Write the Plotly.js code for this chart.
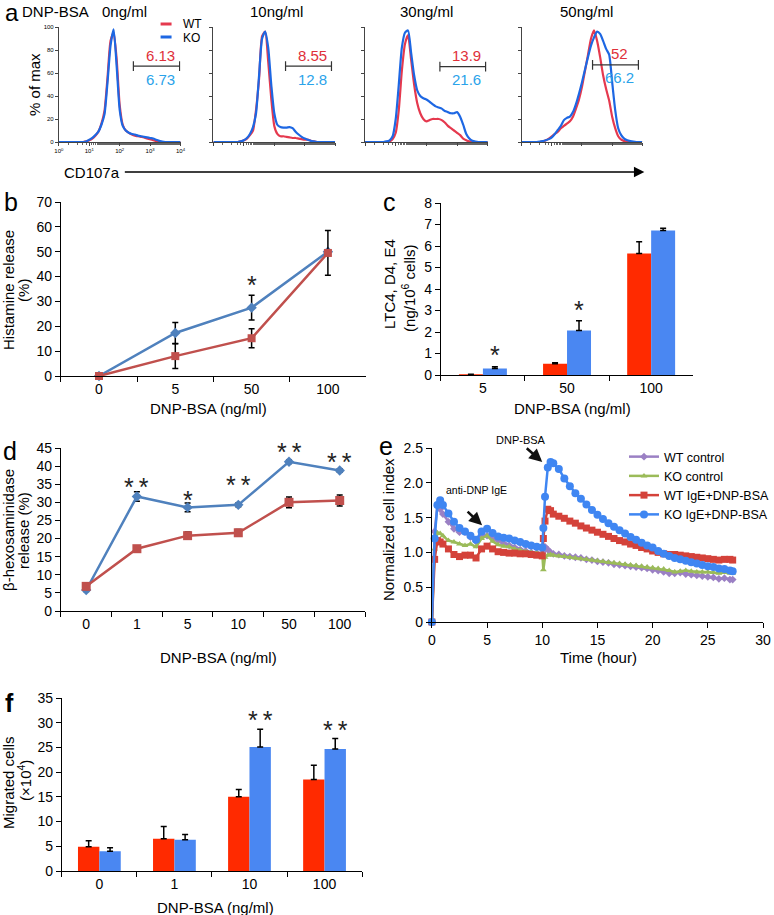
<!DOCTYPE html>
<html><head><meta charset="utf-8">
<script src="https://cdn.plot.ly/plotly-3.0.1.min.js"></script>
<style>body{margin:0;background:#fff}#chart{width:774px;height:915px}</style>
</head><body><div id="chart"></div>
<script>
// ================= DATA =================
// Panel a: CD107a flow histograms (% of max) on log10 bins
const histBinsLog = [0,0.1,0.2,0.3,0.4,0.5,0.6,0.7,0.8,0.9,1.0,1.1,1.2,1.3,1.4,1.5,1.6,1.7,1.8,1.9,2.0,2.1,2.2,2.3,2.4,2.5,2.6,2.7,2.8,2.9,3.0,3.1,3.2,3.3,3.4,3.5,3.6,3.7,3.8,3.9,4.0];
const histTitles = ['0ng/ml','10ng/ml','30ng/ml','50ng/ml'];
const histWT_0  = [0,0,0,0,0,0,0,0,0, 0.5,1.5,3,5.5,9,16,27,56,88,95,72,32,15,10,8,6.5,5.5,5,4.5,4,3,2.5,1.5,0.8,0.3,0, 0,0,0,0,0,0];
const histKO_0  = [0,0,0,0,0,0,0,0,0, 0.5,2,3.5,6,9,15,24,52,84,98,66,28,14,10,8,7,6.5,5.5,5,4.5,4,3.5,3,2,1,0.3, 0,0,0,0,0,0];
const histWT_10 = [0,0,0,0,0,0,0,0,0, 0.5,1.5,3,6,10,28,55,92,96,70,38,14,7,5,5,4.5,4,3.5,3.5,3,2.5,2,2,1,0.5,0, 0,0,0,0,0,0];
const histKO_10 = [0,0,0,0,0,0,0,0,0, 0.5,1.5,3.5,7,13,25,58,90,96,82,50,25,15,13,12.5,12.5,13,12,9,6.5,4.5,3,2,1,0.5,0, 0,0,0,0,0,0];
const histWT_30 = [0,0,0,0,0,0,0, 0,0.5,2.5,8,28,62,85,93,72,50,34,25,20,18,19,20,20,20,19,17,14,12,10,8,6,3,1.5,0.5,0,0, 0,0,0,0];
const histKO_30 = [0,0,0,0,0,0,0, 0.5,1.5,5,20,50,82,95,97,78,58,45,40,38,37,35,33,31,30,29,27,26,25,25,26,22,15,7,3,1,0.3, 0,0,0,0];
const histWT_50 = [0,0,0,0,0,0, 0,0.5,1.5,3,5,7,9,12,14,16,18,22,29,37,48,62,76,90,97,88,74,58,46,36,22,12,5,2,0.8,0.3,0,0, 0,0,0];
const histKO_50 = [0,0,0,0,0,0, 0.3,0.8,1.5,2.5,4,7,10.5,14,19,21,22,26,33,42,52,63,74,84,91,96,94,88,81,76,52,28,12,6,3,1.5,0.8,0.3, 0,0,0];
const gateLo = [2.45,2.37,2.44,2.35];
const gateHi = [3.97,3.88,3.93,3.87];
const gateLevel = [66,66,65.5,67];
const gateWT = ['6.13','8.55','13.9','52'];
const gateKO = ['6.73','12.8','21.6','66.2'];
const histTickVals = [1,10,100,1000,10000];
const histTickText = ['10<sup>0</sup>','10<sup>1</sup>','10<sup>2</sup>','10<sup>3</sup>','10<sup>4</sup>'];

// Panel b: histamine release (%)
const bCats = ['0','5','50','100'];
const bWT = [0,8,15.2,49.5];
const bWTerr = [0,5,3.8,9];
const bKO = [0,17.3,27.5,50];
const bKOerr = [0,4.2,5,0];
const bStars = ['','','*',''];
const bStarY = [null,null,37.4,null];

// Panel c: LTC4, D4, E4 (ng/10^6 cells)
const cCats = ['5','50','100'];
const cWT = [0.03,0.52,5.65];
const cWTerr = [0,0.05,0.55];
const cKO = [0.3,2.07,6.72];
const cKOerr = [0.08,0.45,0.1];
const cStars = ['*','*',''];
const cStarY = [1.02,3.12,null];

// Panel d: beta-hexosaminidase release (%)
const dCats = ['0','1','5','10','50','100'];
const dWT = [6.8,17.2,20.8,21.6,30.0,30.5];
const dWTerr = [0.8,0.5,1.0,0.9,1.5,1.5];
const dKO = [5.8,31.6,28.6,29.3,41.2,38.8];
const dKOerr = [0.4,1.3,1.2,0.5,0.5,0.5];
const dStars = ['','**','*','**','**','**'];
const dStarY = [null,34.9,31.2,35.3,44.4,41.7];

// Panel e: normalized cell index vs time (hour)
const eTime = [0,0.25,0.5,0.75,1,1.5,2,2.5,3,3.5,4,4.5,5,5.5,6,6.5,7,7.5,8,8.5,9,9.5,10,10.1,10.25,10.5,10.75,11,11.5,12,12.5,13,13.5,14,14.5,15,15.5,16,16.5,17,17.5,18,18.5,19,19.5,20,20.5,21,21.5,22,22.5,23,23.5,24,24.5,25,25.5,26,26.5,27,27.25];
const eWTcontrol = [0,1.3,1.67,1.62,1.55,1.44,1.34,1.29,1.29,1.22,1.16,1.25,1.24,1.2,1.17,1.13,1.1,1.07,1.04,1.02,1.0,0.99,0.98, 1.02,1.08,1.04,1.0,0.98, 0.97,0.95,0.94,0.93,0.92,0.9,0.89,0.87,0.86,0.85,0.83,0.82,0.81,0.8,0.79,0.78,0.77,0.75,0.74,0.72,0.7,0.7,0.71,0.69,0.68,0.67,0.66,0.65,0.64,0.62,0.63,0.61, 0.61];
const eKOcontrol = [0,1.05,1.28,1.27,1.24,1.17,1.15,1.12,1.1,1.12,1.08,1.2,1.24,1.16,1.11,1.09,1.08,1.05,1.03,1.01,1.0,0.99,0.98, 0.75,0.93,0.96,0.97,0.96, 0.95,0.94,0.93,0.92,0.91,0.9,0.89,0.88,0.87,0.86,0.85,0.84,0.83,0.82,0.81,0.8,0.79,0.78,0.77,0.76,0.74,0.72,0.73,0.74,0.73,0.72,0.72,0.72,0.71,0.7,0.71,0.7, 0.7];
const eWTIgE = [0,0.9,1.17,1.15,1.12,1.05,0.97,0.94,0.96,0.96,0.92,1.05,1.09,1.05,1.01,1.0,0.99,0.99,0.98,0.98,0.97,0.96,0.95, 1.2,1.45,1.62,1.6,1.55, 1.52,1.49,1.45,1.42,1.38,1.35,1.32,1.29,1.26,1.23,1.2,1.17,1.15,1.12,1.1,1.07,1.05,1.02,1.0,0.98,0.97,0.97,0.96,0.95,0.94,0.93,0.92,0.91,0.9,0.89,0.9,0.9, 0.89];
const eKOIgE = [0,1.2,1.68,1.75,1.68,1.56,1.44,1.35,1.3,1.24,1.18,1.3,1.34,1.28,1.23,1.21,1.2,1.17,1.15,1.12,1.1,1.08,1.07, 1.35,1.8,2.22,2.3,2.28, 2.2,2.06,1.95,1.85,1.77,1.69,1.61,1.54,1.48,1.42,1.37,1.32,1.27,1.22,1.18,1.14,1.1,1.07,1.02,0.98,0.95,0.92,0.9,0.88,0.86,0.84,0.82,0.8,0.79,0.77,0.76,0.74, 0.73];
const eNames = ['WT control','KO control','WT IgE+DNP-BSA','KO IgE+DNP-BSA'];
const eYTickVals = [0,0.5,1.0,1.5,2.0,2.5];
const eYTickText = ['0','0.5','1.0','1.5','2.0','2.5'];

// Panel f: migrated cells (x10^4)
const fCats = ['0','1','10','100'];
const fWT = [4.9,6.5,15.0,18.5];
const fWTerr = [1.2,2.5,1.5,2.9];
const fKO = [4.0,6.3,25.1,24.7];
const fKOerr = [0.7,1.1,3.6,2.1];
const fStars = ['','','**','**'];
const fStarY = [null,null,30.95,28.9];

// ================= STYLE / LAYOUT =================
const FONT = 'Liberation Sans, Arial, Helvetica, sans-serif';
const W = 774, H = 915;
const px = x => x / W;
const py = y => 1 - y / H;
const dx = (a, b) => [px(a), px(b)];
const dy = (top, bot) => [py(bot), py(top)];

const RED_H = '#e5394e', BLUE_H = '#1d67e3';
const RED_X = '#c0504d', BLUE_X = '#4f81bd';
const RED_BAR = '#ff2a00', BLUE_BAR = '#4a87f2';
const E_COLORS = ['#9b80c4','#9bbb59','#d4423a','#3f86f2'];
const E_SYMBOLS = ['diamond','triangle-up','square','circle'];
const E_SIZES = [6,6,7,8];

const traces = [];
const layout = {
  width: W, height: H,
  margin: {l:0, r:0, t:0, b:0},
  paper_bgcolor: '#fff', plot_bgcolor: 'rgba(0,0,0,0)',
  font: {family: FONT, size: 14, color: '#000'},
  showlegend: true,
  barmode: 'group', bargap: 0.43, bargroupgap: 0,
  legend: {x: px(626), y: py(442), xanchor: 'left', yanchor: 'top', font: {size: 12.5, family: FONT},
           bgcolor: 'rgba(0,0,0,0)', itemwidth: 30, traceorder: 'normal', tracegroupgap: 0},
  annotations: [], shapes: []
};

function baseAxis(extra) {
  return Object.assign({showline: true, linecolor: '#000', linewidth: 1, ticks: 'outside', ticklen: 5,
    tickcolor: '#000', tickwidth: 1, showgrid: false, zeroline: false, fixedrange: true,
    tickfont: {size: 14, family: FONT, color: '#000'}}, extra);
}

// ---- panel a ----
const histXDom = [[59,181],[214,336],[366,489],[523,644]];
const histSets = [[histWT_0,histKO_0],[histWT_10,histKO_10],[histWT_30,histKO_30],[histWT_50,histKO_50]];
const histX = histBinsLog.map(v => Math.pow(10, v));
histSets.forEach((s, i) => {
  const sfx = i === 0 ? '' : String(i + 1);
  traces.push({type: 'scatter', mode: 'lines', x: histX, y: s[0], xaxis: 'x' + sfx, yaxis: 'y' + sfx,
    line: {color: RED_H, width: 2.2, shape: 'spline', smoothing: 0.6}, cliponaxis: false, showlegend: false, hoverinfo: 'skip'});
  traces.push({type: 'scatter', mode: 'lines', x: histX, y: s[1], xaxis: 'x' + sfx, yaxis: 'y' + sfx,
    line: {color: BLUE_H, width: 2.2, shape: 'spline', smoothing: 0.6}, cliponaxis: false, showlegend: false, hoverinfo: 'skip'});
  traces.push({type: 'scatter', mode: 'lines+markers', xaxis: 'x' + sfx, yaxis: 'y' + sfx,
    x: [Math.pow(10, gateLo[i]), Math.pow(10, gateHi[i])], y: [gateLevel[i], gateLevel[i]],
    line: {color: '#333', width: 1.2}, marker: {symbol: 'line-ns', size: 7, line: {color: '#333', width: 1.2}},
    showlegend: false, hoverinfo: 'skip'});
  layout['xaxis' + sfx] = baseAxis({domain: dx(histXDom[i][0], histXDom[i][1]), type: 'log', range: [0, 4],
    anchor: 'y' + sfx, linecolor: '#444', tickcolor: '#444', ticklen: 3, tickmode: 'array', tickvals: histTickVals,
    ticktext: histTickText, showticklabels: i === 0, tickfont: {size: 6, family: FONT},
    minor: {ticks: 'outside', ticklen: 2, tickcolor: '#666'}});
  layout['yaxis' + sfx] = baseAxis({domain: dy(27, 142), range: [0, 100], anchor: 'x' + sfx,
    linecolor: '#444', tickcolor: '#444', ticklen: 3, tickmode: 'array', tickvals: [0,20,40,60,80,100],
    showticklabels: i === 0, tickfont: {size: 6, family: FONT}});
  layout.annotations.push({xref: 'x' + sfx, yref: 'y' + sfx, x: (gateLo[i] + gateHi[i]) / 2, y: gateLevel[i],
    text: gateWT[i], showarrow: false, yshift: 11, xshift: 4, font: {size: 15, color: '#e0303a', family: FONT}});
  layout.annotations.push({xref: 'x' + sfx, yref: 'y' + sfx, x: (gateLo[i] + gateHi[i]) / 2, y: gateLevel[i],
    text: gateKO[i], showarrow: false, yshift: -13, xshift: 4, font: {size: 15, color: '#2aa3ea', family: FONT}});
});

// ---- panel b ----
traces.push({type: 'scatter', mode: 'lines+markers', x: bCats, y: bKO, xaxis: 'x5', yaxis: 'y5', cliponaxis: false,
  line: {color: BLUE_X, width: 2.5}, marker: {symbol: 'diamond', size: 8, color: BLUE_X}, showlegend: false,
  error_y: {type: 'data', array: bKOerr, visible: true, color: '#000', thickness: 1.5, width: 3}});
traces.push({type: 'scatter', mode: 'lines+markers', x: bCats, y: bWT, xaxis: 'x5', yaxis: 'y5', cliponaxis: false,
  line: {color: RED_X, width: 2.5}, marker: {symbol: 'square', size: 8, color: RED_X}, showlegend: false,
  error_y: {type: 'data', array: bWTerr, visible: true, color: '#000', thickness: 1.5, width: 3}});
layout.xaxis5 = baseAxis({domain: dx(61, 367), type: 'category', range: [-0.5, 3.5], anchor: 'y5', tickson: 'boundaries'});
layout.yaxis5 = baseAxis({domain: dy(202, 376), range: [0, 70], dtick: 10, anchor: 'x5'});

// ---- panel c ----
traces.push({type: 'bar', x: cCats, y: cWT, xaxis: 'x6', yaxis: 'y6', marker: {color: RED_BAR}, showlegend: false,
  error_y: {type: 'data', symmetric: false, array: cWTerr, arrayminus: cWTerr.map(() => 0), color: '#000', thickness: 1.5, width: 3}});
traces.push({type: 'bar', x: cCats, y: cKO, xaxis: 'x6', yaxis: 'y6', marker: {color: BLUE_BAR}, showlegend: false,
  error_y: {type: 'data', symmetric: false, array: cKOerr, arrayminus: cKOerr.map(() => 0), color: '#000', thickness: 1.5, width: 3}});
layout.xaxis6 = baseAxis({domain: dx(442, 695), type: 'category', range: [-0.5, 2.5], anchor: 'y6', tickson: 'boundaries'});
layout.yaxis6 = baseAxis({domain: dy(203, 375), range: [0, 8], dtick: 1, anchor: 'x6'});

// ---- panel d ----
traces.push({type: 'scatter', mode: 'lines+markers', x: dCats, y: dKO, xaxis: 'x7', yaxis: 'y7', cliponaxis: false,
  line: {color: BLUE_X, width: 2.5}, marker: {symbol: 'diamond', size: 8, color: BLUE_X}, showlegend: false,
  error_y: {type: 'data', array: dKOerr, visible: true, color: '#000', thickness: 1.5, width: 3}});
traces.push({type: 'scatter', mode: 'lines+markers', x: dCats, y: dWT, xaxis: 'x7', yaxis: 'y7', cliponaxis: false,
  line: {color: RED_X, width: 2.5}, marker: {symbol: 'square', size: 9, color: RED_X}, showlegend: false,
  error_y: {type: 'data', array: dWTerr, visible: true, color: '#000', thickness: 1.5, width: 3}});
layout.xaxis7 = baseAxis({domain: dx(61, 366), type: 'category', range: [-0.5, 5.5], anchor: 'y7', tickson: 'boundaries'});
layout.yaxis7 = baseAxis({domain: dy(448, 611), range: [0, 45], dtick: 5, anchor: 'x7'});

// ---- panel e ----
[eWTcontrol, eKOcontrol, eWTIgE, eKOIgE].forEach((ys, k) => {
  traces.push({type: 'scatter', mode: 'lines+markers', x: eTime, y: ys, xaxis: 'x8', yaxis: 'y8', name: eNames[k],
    cliponaxis: false, line: {color: E_COLORS[k], width: 2.5},
    marker: {symbol: E_SYMBOLS[k], size: E_SIZES[k], color: E_COLORS[k]}, showlegend: true});
});
layout.xaxis8 = baseAxis({domain: dx(433, 765), range: [0, 30], dtick: 5, anchor: 'y8'});
layout.yaxis8 = baseAxis({domain: dy(448, 622), range: [0, 2.5], tickmode: 'array', tickvals: eYTickVals, ticktext: eYTickText, anchor: 'x8'});

// ---- panel f ----
traces.push({type: 'bar', x: fCats, y: fWT, xaxis: 'x9', yaxis: 'y9', marker: {color: RED_BAR}, showlegend: false,
  error_y: {type: 'data', symmetric: false, array: fWTerr, arrayminus: fWTerr.map(() => 0), color: '#000', thickness: 1.5, width: 3}});
traces.push({type: 'bar', x: fCats, y: fKO, xaxis: 'x9', yaxis: 'y9', marker: {color: BLUE_BAR}, showlegend: false,
  error_y: {type: 'data', symmetric: false, array: fKOerr, arrayminus: fKOerr.map(() => 0), color: '#000', thickness: 1.5, width: 3}});
layout.xaxis9 = baseAxis({domain: dx(62, 363), type: 'category', range: [-0.5, 3.5], anchor: 'y9', tickson: 'boundaries'});
layout.yaxis9 = baseAxis({domain: dy(698, 871), range: [0, 35], dtick: 5, anchor: 'x9'});

// ---- significance stars (x given as category index) ----
function stars(labels, ys, ax, shift) {
  labels.forEach((t, i) => {
    if (!t) return;
    layout.annotations.push({xref: 'x' + ax, yref: 'y' + ax, x: i, y: ys[i], text: t.split('').join('\u2009'),
      showarrow: false, xshift: shift, yshift: -2, font: {size: 25, color: '#222', family: FONT}});
  });
}
stars(bStars, bStarY, 5, 0);
stars(cStars, cStarY, 6, 12);
stars(dStars, dStarY, 7, 0);
stars(fStars, fStarY, 9, 11);

// ---- text labels ----
function note(text, x, y, o) {
  layout.annotations.push(Object.assign({text: text, x: px(x), y: py(y), xref: 'paper', yref: 'paper', showarrow: false,
    xanchor: 'center', yanchor: 'middle', font: {family: FONT, size: 15, color: '#000'}}, o || {}));
}
// panel letters
note('a', 3, 13, {xanchor: 'left', font: {family: FONT, size: 24}});
note('b', 2, 202, {xanchor: 'left', font: {family: FONT, size: 25}});
note('c', 382, 202, {xanchor: 'left', font: {family: FONT, size: 25}});
note('d', 1, 451, {xanchor: 'left', font: {family: FONT, size: 25}});
note('e', 378, 446, {xanchor: 'left', font: {family: FONT, size: 25}});
note('<b>f</b>', 3, 703, {xanchor: 'left', font: {family: FONT, size: 25}});
// panel a
note('DNP-BSA', 20, 12, {xanchor: 'left'});
const histTitleX = [125, 277, 428, 588];
histTitles.forEach((t, i) => note(t, histTitleX[i], 12));
note('% of max', 35, 84, {textangle: -90});
note('CD107a', 62, 172, {xanchor: 'left'});
layout.annotations.push({xref: 'paper', yref: 'paper', x: px(646), y: py(172), ax: -521, ay: 0, text: '',
  showarrow: true, arrowhead: 2, arrowsize: 1.3, arrowwidth: 1.6, arrowcolor: '#000'});
layout.shapes.push({type: 'line', xref: 'paper', yref: 'paper', x0: px(161), x1: px(172), y0: py(24), y1: py(24), line: {color: RED_H, width: 3}});
layout.shapes.push({type: 'line', xref: 'paper', yref: 'paper', x0: px(161), x1: px(172), y0: py(37), y1: py(37), line: {color: BLUE_H, width: 3}});
note('WT', 181, 24, {xanchor: 'left', font: {family: FONT, size: 12}});
note('KO', 181, 38, {xanchor: 'left', font: {family: FONT, size: 12}});
// axis titles
note('Histamine release', 8, 290, {textangle: -90});
note('(%)', 23, 290, {textangle: -90});
note('DNP-BSA (ng/ml)', 209, 409);
note('LTC4, D4, E4', 390, 284, {textangle: -90});
note('(ng/10<sup>6</sup> cells)', 409, 288, {textangle: -90});
note('DNP-BSA (ng/ml)', 574, 409);
note('β-hexosaminidase', 8, 530, {textangle: -90});
note('release (%)', 23, 530, {textangle: -90});
note('DNP-BSA (ng/ml)', 219, 657);
note('Normalized cell index', 389, 529, {textangle: -90});
note('Time (hour)', 600, 657);
note('Migrated cells', 8, 782, {textangle: -90});
note('(×10<sup>4</sup>)', 24, 780, {textangle: -90});
note('DNP-BSA (ng/ml)', 216, 907);
// panel e arrows
note('DNP-BSA', 522, 440, {font: {family: FONT, size: 11}});
note('anti-DNP IgE', 478, 490, {font: {family: FONT, size: 10.5}});
layout.annotations.push({xref: 'x8', yref: 'y8', x: 10.0, y: 2.3, ax: -17, ay: -15, text: '', showarrow: true,
  arrowhead: 2, arrowsize: 1, arrowwidth: 2.6, arrowcolor: '#111'});
layout.annotations.push({xref: 'x8', yref: 'y8', x: 4.55, y: 1.39, ax: -16, ay: -15, text: '', showarrow: true,
  arrowhead: 2, arrowsize: 1, arrowwidth: 2.6, arrowcolor: '#111'});

Plotly.newPlot('chart', traces, layout, {staticPlot: true, displayModeBar: false});
</script>
</body></html>
